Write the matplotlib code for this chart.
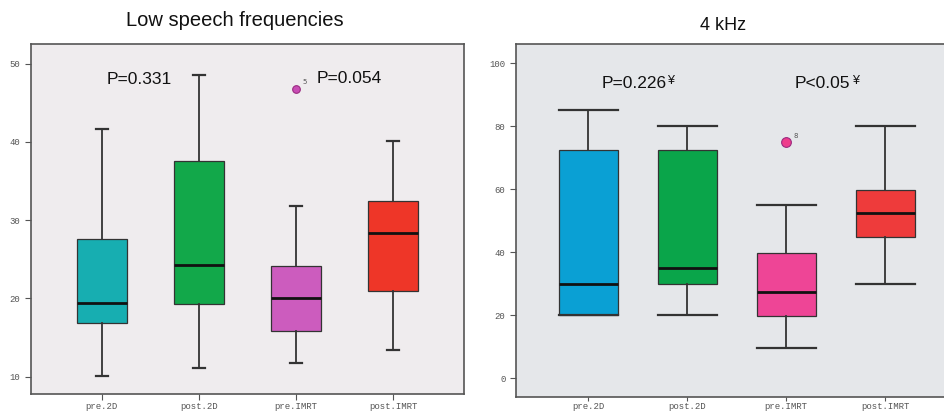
import matplotlib.pyplot as plt

groups = ['pre.2D', 'post.2D', 'pre.IMRT', 'post.IMRT']

# Low speech frequencies
low_whislo = [10.1, 11.1, 11.7, 13.4]
low_q1 = [16.9, 19.3, 15.9, 20.9]
low_med = [19.4, 24.25, 20.1, 28.4]
low_q3 = [27.6, 37.6, 24.2, 32.5]
low_whishi = [41.7, 48.5, 31.8, 40.1]
low_fliers = [[], [], [46.8], []]
low_flier_ids = [[], [], ['5'], []]
low_colors = ['#17AEB1', '#12A84A', '#CC5CBE', '#EE3628']
low_p = ['P=0.331', 'P=0.054']

# 4 kHz
k4_whislo = [20, 20, 9.8, 30]
k4_q1 = [20, 30, 19.8, 44.8]
k4_med = [30.1, 35, 27.4, 52.5]
k4_q3 = [72.6, 72.6, 39.9, 59.9]
k4_whishi = [85.1, 80.2, 55, 80.2]
k4_fliers = [[], [], [75.1], []]
k4_flier_ids = [[], [], ['8'], []]
k4_colors = ['#0AA0D4', '#0AA54A', '#EE4596', '#EE3B3B']
k4_p = ['P=0.226', 'P<0.05']

fig = plt.figure(figsize=(9.44, 4.13), dpi=100)
fig.patch.set_facecolor('white')

ax1 = fig.add_axes([0.0328, 0.046, 0.4587, 0.8475])
ax2 = fig.add_axes([0.5466, 0.0395, 0.4677, 0.854])


def make_stats(wlo, q1, med, q3, whi, fl):
    out = []
    for i in range(len(med)):
        out.append(dict(whislo=wlo[i], q1=q1[i], med=med[i], q3=q3[i],
                        whishi=whi[i], fliers=fl[i]))
    return out


def draw(ax, stats, colors, width, capw, fcol, msize, ids, bg):
    ax.set_facecolor(bg)
    b = ax.bxp(stats, positions=[1, 2, 3, 4], widths=width, patch_artist=True,
               capwidths=capw, showfliers=True,
               boxprops=dict(edgecolor='#333333', linewidth=0.9),
               medianprops=dict(color='#111111', linewidth=2.0),
               whiskerprops=dict(color='#333333', linewidth=1.3),
               capprops=dict(color='#333333', linewidth=1.6),
               flierprops=dict(marker='o', markerfacecolor=fcol,
                               markeredgecolor='#9A2A80', markersize=msize,
                               markeredgewidth=0.8))
    for patch, c in zip(b['boxes'], colors):
        patch.set_facecolor(c)
    for i, s in enumerate(stats):
        for v, lab in zip(s['fliers'], ids[i]):
            ax.annotate(lab, (i + 1, v), xytext=(5, 3), textcoords='offset points',
                        fontsize=5, color='#555555')
    ax.set_xlim(0.27, 4.73)
    ax.set_xticks([1, 2, 3, 4])
    ax.set_xticklabels(groups, family='Liberation Mono', fontsize=6, color='#333333')
    for sp in ax.spines.values():
        sp.set_color('#555555')
        sp.set_linewidth(1.2)
    ax.tick_params(colors='#555555', length=4, width=0.8, labelsize=6.5)
    ax.tick_params(axis='x', pad=1.5)
    for t in ax.get_yticklabels():
        t.set_family('Liberation Mono')
        t.set_color('#555555')


draw(ax1, make_stats(low_whislo, low_q1, low_med, low_q3, low_whishi, low_fliers),
     low_colors, 0.51, 0.12, '#C84CB4', 5.5, low_flier_ids, '#EFECEE')
ax1.set_ylim(7.8, 52.5)
ax1.set_yticks([10, 20, 30, 40, 50])

draw(ax2, make_stats(k4_whislo, k4_q1, k4_med, k4_q3, k4_whishi, k4_fliers),
     k4_colors, 0.6, 0.6, '#EE3D8C', 7, k4_flier_ids, '#E5E7EA')
ax2.set_ylim(-5.8, 106.1)
ax2.set_yticks([0, 20, 40, 60, 80, 100])
ax2.set_yticklabels(['0', '20', '40', '60', '80', '100'])
for t in ax2.get_yticklabels():
    t.set_family('Liberation Mono')
    t.set_color('#555555')
ax2.tick_params(axis='x', length=3, pad=1)

fig.text(235 / 944, 1 - 20 / 413, 'Low speech frequencies', ha='center', va='center',
         family='Liberation Sans', fontsize=14.5, color='#111111')
fig.text(723 / 944, 1 - 25 / 413, '4 kHz', ha='center', va='center',
         family='Liberation Sans', fontsize=13, color='#111111')

# p-value labels
ax1.text(1.39, 48.0, low_p[0], ha='center', va='center', family='Liberation Sans',
         fontsize=12.5, color='#111111')
ax1.text(3.55, 48.1, low_p[1], ha='center', va='center', family='Liberation Sans',
         fontsize=12.5, color='#111111')

p_texts = []
p_texts.append(ax2.text(1.46, 93.5, k4_p[0], ha='center', va='center',
                        family='Liberation Sans', fontsize=12.5, color='#111111'))
p_texts.append(ax2.text(3.37, 93.5, k4_p[1], ha='center', va='center',
                        family='Liberation Sans', fontsize=12.5, color='#111111'))
fig.canvas.draw()
r = fig.canvas.get_renderer()
for t in p_texts:
    bb = t.get_window_extent(r)
    fig.text((bb.x1 + 1) / (fig.dpi * 9.44), (bb.y1 + 1) / (fig.dpi * 4.13), '¥',
             ha='left', va='top', family='Liberation Sans', fontsize=9,
             color='#111111')

fig.savefig('out.png', dpi=100)
